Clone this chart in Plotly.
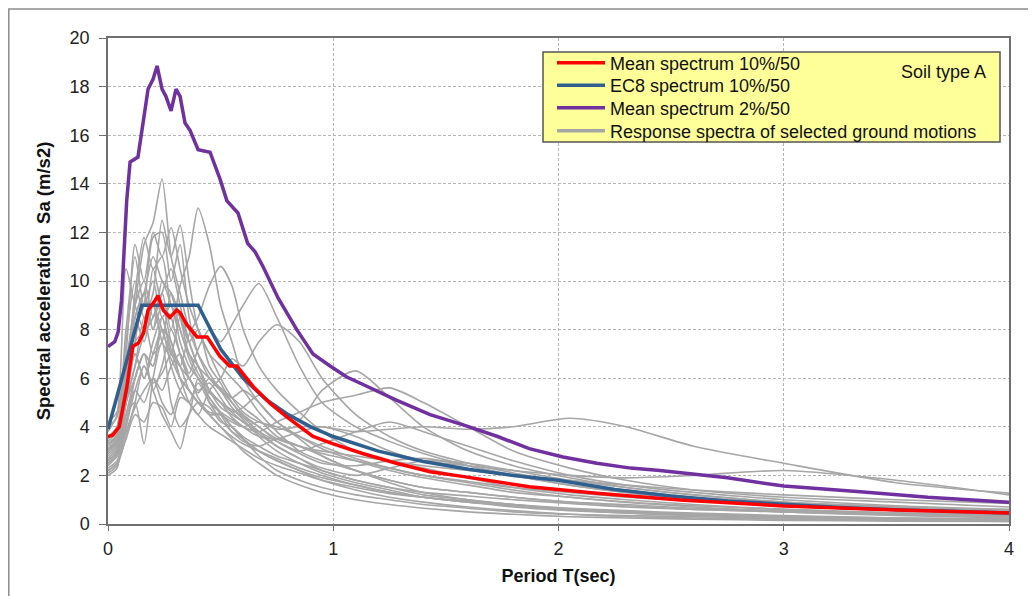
import plotly.graph_objects as go

# ---------------- data ----------------
period_grid = [0, 0.04, 0.08, 0.12, 0.16, 0.2, 0.24, 0.28, 0.32, 0.36, 0.4, 0.45, 0.5, 0.55, 0.6,
               0.67, 0.75, 0.85, 0.95, 1.1, 1.25, 1.4, 1.6, 1.8, 2.05, 2.3, 2.6, 3.0, 3.5, 4.0]

gm01 = [3.0, 3.4, 6.5, 9.0, 11.5, 12.4, 14.2, 11.0, 9.5, 8.0, 7.0, 6.2, 5.5, 4.8, 4.3, 3.6, 3.0, 2.5, 2.1, 1.7, 1.4, 1.1, 0.9, 0.7, 0.55, 0.45, 0.35, 0.28, 0.2, 0.15]
gm02 = [2.6, 3.0, 5.0, 6.5, 7.8, 8.5, 9.5, 8.0, 9.8, 11.0, 13.0, 11.5, 9.0, 7.5, 6.0, 5.0, 4.2, 3.6, 3.1, 2.6, 2.2, 1.9, 1.6, 1.3, 1.1, 0.9, 0.7, 0.5, 0.35, 0.25]
gm03 = [3.3, 3.6, 5.5, 7.0, 6.0, 7.5, 8.5, 7.2, 6.5, 7.8, 8.5, 9.8, 10.6, 9.8, 8.0, 6.5, 5.5, 4.6, 3.8, 3.0, 2.6, 2.3, 1.9, 1.5, 1.2, 1.0, 0.8, 0.6, 0.45, 0.35]
gm04 = [2.4, 2.8, 4.2, 5.5, 5.0, 6.0, 5.5, 6.5, 7.0, 6.2, 7.2, 8.0, 7.5, 8.2, 9.0, 9.9, 8.5, 6.5, 5.0, 4.0, 3.4, 2.9, 2.4, 2.0, 1.6, 1.3, 1.05, 0.8, 0.6, 0.45]
gm05 = [2.2, 2.5, 3.5, 4.5, 4.2, 5.0, 4.8, 4.0, 5.2, 5.0, 4.5, 5.5, 6.0, 6.8, 6.5, 7.5, 8.2, 7.5, 6.0, 4.5, 3.6, 3.0, 2.5, 2.1, 1.7, 1.4, 1.1, 0.85, 0.6, 0.45]
gm06 = [3.0, 3.5, 5.8, 8.5, 9.5, 8.0, 9.0, 7.5, 6.5, 6.0, 5.5, 5.8, 5.2, 4.6, 4.8, 5.3, 4.8, 4.3, 5.5, 6.3, 5.2, 4.0, 3.0, 2.4, 1.9, 1.5, 1.2, 0.9, 0.7, 0.55]
gm07 = [2.8, 3.2, 5.0, 7.5, 8.0, 10.5, 9.0, 8.5, 7.0, 6.0, 6.5, 5.0, 4.6, 4.3, 4.0, 3.8, 4.2, 4.6, 5.0, 5.3, 5.6, 5.0, 4.0, 3.0, 2.3, 1.8, 1.4, 1.1, 0.9, 0.7]
gm08 = [2.5, 2.9, 4.5, 6.0, 7.0, 6.5, 8.0, 7.5, 6.0, 5.5, 5.0, 4.6, 4.5, 4.2, 4.0, 4.2, 3.9, 4.0, 4.0, 3.8, 3.9, 4.0, 3.9, 4.0, 4.35, 4.0, 3.2, 2.5, 1.7, 1.27]
gm09 = [3.5, 4.0, 6.0, 8.5, 9.5, 11.0, 10.0, 9.5, 8.0, 7.0, 6.2, 5.5, 5.0, 4.4, 4.0, 3.6, 3.5, 3.8, 4.0, 3.6, 3.0, 2.6, 2.4, 2.2, 2.0, 1.9, 2.0, 2.2, 1.8, 1.2]
gm10 = [3.8, 4.5, 10.5, 9.0, 8.0, 9.0, 7.5, 6.8, 6.0, 5.5, 5.0, 4.5, 4.0, 3.6, 3.3, 3.0, 2.7, 2.3, 2.0, 1.6, 1.3, 1.1, 0.9, 0.75, 0.6, 0.5, 0.4, 0.3, 0.22, 0.15]
gm11 = [2.0, 2.3, 4.5, 5.0, 3.3, 6.0, 7.5, 5.0, 4.0, 4.5, 6.0, 5.2, 4.5, 3.8, 3.5, 3.0, 2.6, 2.2, 1.8, 1.4, 1.1, 0.9, 0.7, 0.55, 0.4, 0.3, 0.25, 0.2, 0.15, 0.1]
gm12 = [2.2, 2.5, 4.0, 5.5, 6.5, 5.5, 4.5, 3.8, 3.1, 4.5, 5.0, 4.8, 4.2, 4.0, 3.6, 3.2, 2.8, 2.5, 2.2, 1.8, 1.5, 1.2, 1.0, 0.8, 0.6, 0.5, 0.4, 0.3, 0.2, 0.15]
gm13 = [4.2, 4.6, 7.0, 11.5, 10.0, 12.0, 11.0, 12.2, 10.5, 9.0, 8.0, 7.0, 6.5, 6.0, 5.5, 4.6, 3.8, 3.0, 2.6, 2.2, 1.8, 1.5, 1.3, 1.1, 0.9, 0.75, 0.6, 0.5, 0.38, 0.3]
gm14 = [3.2, 3.6, 6.0, 9.5, 11.8, 10.5, 11.0, 9.0, 8.5, 7.5, 8.0, 6.5, 5.8, 5.0, 4.5, 4.0, 3.5, 3.2, 3.0, 2.8, 2.6, 2.4, 2.2, 2.0, 1.8, 1.6, 1.4, 1.2, 1.0, 0.85]
gm15 = [2.9, 3.3, 5.5, 8.0, 9.0, 11.8, 12.0, 10.0, 11.5, 8.5, 7.0, 6.0, 5.5, 5.2, 5.5, 5.0, 4.2, 3.5, 2.8, 2.2, 1.8, 1.5, 1.3, 1.1, 0.9, 0.8, 0.65, 0.55, 0.45, 0.35]
gm16 = [3.6, 4.0, 7.5, 10.0, 8.5, 9.5, 12.5, 11.0, 12.3, 10.0, 8.0, 7.0, 6.0, 5.2, 4.6, 4.2, 4.0, 3.6, 3.2, 2.7, 2.3, 2.0, 1.7, 1.4, 1.1, 0.9, 0.75, 0.6, 0.45, 0.35]
gm17 = [2.5, 2.8, 4.0, 6.0, 7.0, 5.5, 6.5, 8.0, 7.0, 6.0, 5.4, 6.0, 5.5, 5.0, 4.4, 3.8, 3.2, 2.7, 2.3, 2.0, 2.3, 2.6, 2.5, 2.2, 1.8, 1.5, 1.2, 0.9, 0.7, 0.55]
gm18 = [3.0, 3.4, 5.0, 6.5, 8.5, 7.0, 7.5, 9.5, 8.5, 7.0, 6.5, 5.5, 4.8, 4.5, 4.2, 3.8, 3.4, 3.0, 3.3, 3.8, 4.2, 3.8, 3.2, 2.6, 2.0, 1.6, 1.3, 1.0, 0.75, 0.6]
gm19 = [2.3, 2.6, 3.8, 4.8, 5.5, 6.0, 5.0, 4.5, 5.5, 6.0, 5.2, 4.5, 4.0, 3.5, 3.0, 2.5, 2.0, 1.6, 1.3, 1.0, 0.8, 0.65, 0.5, 0.4, 0.3, 0.25, 0.2, 0.15, 0.12, 0.1]
gm20 = [3.3, 3.7, 6.5, 9.0, 10.0, 8.5, 9.5, 10.5, 9.0, 7.5, 6.5, 5.5, 5.0, 4.7, 4.4, 4.0, 3.4, 2.9, 2.5, 2.4, 2.6, 2.7, 2.4, 2.0, 1.6, 1.3, 1.0, 0.8, 0.6, 0.5]
gm21 = [2.7, 3.1, 5.0, 7.0, 6.0, 7.0, 8.0, 6.5, 5.5, 5.0, 5.8, 5.0, 4.3, 3.8, 3.4, 3.2, 3.5, 3.2, 2.8, 2.2, 1.7, 1.3, 1.0, 0.8, 0.6, 0.45, 0.35, 0.28, 0.2, 0.15]
gm22 = [4.0, 4.4, 8.0, 11.0, 9.0, 10.0, 8.5, 9.0, 7.5, 6.5, 6.0, 5.2, 4.6, 4.0, 3.5, 3.0, 2.6, 2.2, 1.9, 1.6, 1.3, 1.1, 0.9, 0.75, 0.6, 0.5, 0.4, 0.3, 0.25, 0.2]
gm23 = [2.1, 2.4, 3.6, 5.0, 6.5, 5.8, 6.2, 7.0, 6.0, 5.0, 4.5, 4.0, 3.7, 3.4, 3.1, 2.7, 2.4, 2.1, 1.8, 1.5, 1.25, 1.1, 0.95, 0.8, 0.65, 0.55, 0.45, 0.35, 0.25, 0.2]
gm24 = [3.1, 3.5, 5.5, 7.5, 9.5, 8.0, 10.0, 9.0, 8.0, 6.8, 6.0, 5.4, 5.0, 4.6, 4.2, 3.7, 3.2, 2.7, 2.2, 1.8, 1.5, 1.3, 1.15, 1.0, 0.85, 0.7, 0.6, 0.5, 0.4, 0.3]
gm25 = [2.6, 3.0, 5.0, 6.0, 7.0, 6.5, 8.5, 7.0, 6.5, 5.5, 5.0, 4.5, 4.5, 4.0, 3.5, 2.8, 2.2, 1.8, 1.5, 1.2, 1.0, 0.8, 0.65, 0.5, 0.4, 0.35, 0.3, 0.25, 0.18, 0.12]
gm26 = [3.4, 3.8, 6.0, 8.5, 7.5, 9.0, 8.0, 7.0, 8.5, 7.5, 6.5, 6.0, 5.6, 5.2, 4.8, 4.3, 3.6, 3.2, 2.9, 2.6, 2.3, 2.0, 1.75, 1.5, 1.3, 1.1, 0.95, 0.8, 0.65, 0.55]

ground_motions = [gm01, gm02, gm03, gm04, gm05, gm06, gm07, gm08, gm09, gm10, gm11, gm12, gm13,
                  gm14, gm15, gm16, gm17, gm18, gm19, gm20, gm21, gm22, gm23, gm24, gm25, gm26]

mean10_T = [0, 0.02, 0.05, 0.083, 0.11, 0.135, 0.157, 0.178, 0.209, 0.222, 0.245, 0.275, 0.305, 0.32,
            0.35, 0.395, 0.44, 0.497, 0.54, 0.572, 0.645, 0.72, 0.795, 0.91, 1.0, 1.13, 1.28, 1.43,
            1.58, 1.73, 1.87, 2.02, 2.17, 2.54, 3.0, 3.5, 4.0]
mean10_Sa = [3.6, 3.65, 4.0, 5.6, 7.3, 7.45, 7.85, 8.8, 9.2, 9.4, 8.8, 8.5, 8.8, 8.7,
             8.2, 7.7, 7.7, 6.9, 6.5, 6.5, 5.65, 4.96, 4.4, 3.6, 3.3, 2.9, 2.5, 2.15,
             1.95, 1.74, 1.53, 1.4, 1.27, 0.99, 0.74, 0.58, 0.45]

ec8_T = [0, 0.15, 0.4, 0.5, 0.6, 0.7, 0.8, 0.9, 1.0, 1.2, 1.4, 1.6, 1.8, 2.0, 2.25, 2.5, 2.75,
         3.0, 3.25, 3.5, 3.75, 4.0]
ec8_Sa = [3.9, 9.0, 9.0, 7.2, 6.0, 5.14, 4.5, 4.0, 3.6, 3.0, 2.57, 2.25, 2.0, 1.8, 1.42, 1.15, 0.95,
          0.8, 0.68, 0.59, 0.51, 0.45]

mean2_T = [0, 0.03, 0.045, 0.06, 0.083, 0.098, 0.133, 0.155, 0.178, 0.2, 0.218, 0.24, 0.257, 0.28,
           0.302, 0.32, 0.342, 0.364, 0.40, 0.453, 0.466, 0.497, 0.528, 0.555, 0.577, 0.62, 0.653,
           0.688, 0.755, 0.838, 0.91, 0.986, 1.06, 1.13, 1.28, 1.43, 1.58, 1.73, 1.87, 2.02, 2.17,
           2.32, 2.45, 2.75, 3.0, 3.34, 3.64, 4.0]
mean2_Sa = [7.3, 7.5, 7.9, 9.2, 13.3, 14.9, 15.1, 16.5, 17.9, 18.3, 18.85, 17.9, 17.6, 17.0,
            17.9, 17.6, 16.5, 16.2, 15.4, 15.3, 15.0, 14.2, 13.3, 13.05, 12.8, 11.55, 11.2,
            10.6, 9.3, 8.0, 7.0, 6.5, 6.05, 5.75, 5.1, 4.5, 4.07, 3.6, 3.1, 2.76, 2.5,
            2.3, 2.2, 1.9, 1.56, 1.33, 1.1, 0.9]

x_ticks = [0, 1, 2, 3, 4]
y_ticks = [0, 2, 4, 6, 8, 10, 12, 14, 16, 18, 20]

FONT = "Arial, Liberation Sans, sans-serif"
GRAY = "#a6a6a6"
RED = "#ff0000"
BLUE = "#2f5f8f"
PURPLE = "#7030a0"

fig = go.Figure()

for gm in ground_motions:
    fig.add_trace(go.Scatter(
        x=period_grid, y=gm, mode="lines",
        line=dict(color=GRAY, width=1.6, shape="spline", smoothing=0.7),
        name="Response spectra of selected ground motions",
        legendgroup="gm", showlegend=False, hoverinfo="skip"))

# legend entry for the ground motions (thicker sample line, as in the reference)
fig.add_trace(go.Scatter(x=[None], y=[None], mode="lines",
                         line=dict(color=GRAY, width=3.5),
                         name="Response spectra of selected ground motions",
                         legendgroup="gm", legend="legend4"))

fig.add_trace(go.Scatter(x=ec8_T, y=ec8_Sa, mode="lines",
                         line=dict(color=BLUE, width=3.5),
                         name="EC8 spectrum 10%/50", legend="legend2"))
fig.add_trace(go.Scatter(x=mean10_T, y=mean10_Sa, mode="lines",
                         line=dict(color=RED, width=3.5),
                         name="Mean spectrum 10%/50", legend="legend"))
fig.add_trace(go.Scatter(x=mean2_T, y=mean2_Sa, mode="lines",
                         line=dict(color=PURPLE, width=3.5),
                         name="Mean spectrum 2%/50", legend="legend3"))

# page offset of the figure inside the browser (default body margin)
OFF = 8
# target plot-area rectangle in screen pixels
SX0, SX1, SY0, SY1 = 108, 1009, 38, 524
W, H = 1036 - OFF, 596 - OFF
L, T = SX0 - OFF, SY0 - OFF
R = W - (SX1 - OFF)
B = H - (SY1 - OFF)
pw, ph = W - L - R, H - T - B


def px_x(p):
    return (p - OFF - L) / pw


def px_y(p):
    return (H - B - (p - OFF)) / ph


def legend_at(row_y):
    return dict(x=px_x(552), y=px_y(row_y), xanchor="left", yanchor="middle",
                bgcolor="rgba(0,0,0,0)", borderwidth=0,
                font=dict(family=FONT, size=18, color="#111"),
                itemwidth=48)


fig.update_layout(
    width=W, height=H,
    margin=dict(l=L, r=R, t=T, b=B),
    paper_bgcolor="white", plot_bgcolor="white",
    font=dict(family=FONT, size=18, color="#222"),
    showlegend=True,
    legend=legend_at(63),
    legend2=legend_at(85.5),
    legend3=legend_at(108),
    legend4=legend_at(131),
    shapes=[
        dict(type="rect", xref="paper", yref="paper",
             x0=px_x(8.8), x1=px_x(1033), y0=px_y(610), y1=px_y(9),
             line=dict(color="#8c8c8c", width=1.5), fillcolor="rgba(0,0,0,0)", layer="below"),
        dict(type="rect", xref="paper", yref="paper",
             x0=px_x(543), x1=px_x(1000), y0=px_y(142), y1=px_y(52),
             line=dict(color="#555", width=1.5), fillcolor="#ffff99", layer="above"),
    ],
    annotations=[
        dict(text="Soil type A", xref="paper", yref="paper",
             x=px_x(988), y=px_y(72), xanchor="right", yanchor="middle",
             showarrow=False, font=dict(family=FONT, size=18, color="#111")),
    ],
)

fig.update_xaxes(
    range=[0, 4], tickvals=x_ticks, ticktext=[str(v) for v in x_ticks],
    showgrid=True, gridcolor="#b5b5b5", griddash="3px,2px", gridwidth=1,
    showline=True, linecolor="#707070", linewidth=2, mirror=True,
    ticks="outside", ticklen=5, tickcolor="#707070",
    ticklabelstandoff=2,
    tickfont=dict(family=FONT, size=18, color="#222"),
    zeroline=False,
    title=dict(text="<b>Period T(sec)</b>", font=dict(family=FONT, size=18, color="#111"),
               standoff=12),
)
fig.update_yaxes(
    range=[0, 20], tickvals=y_ticks, ticktext=[str(v) for v in y_ticks],
    showgrid=True, gridcolor="#b5b5b5", griddash="3px,2px", gridwidth=1,
    showline=True, linecolor="#707070", linewidth=1.5, mirror=True,
    ticks="outside", ticklen=7, tickcolor="#707070",
    ticklabelstandoff=6,
    tickfont=dict(family=FONT, size=18, color="#222"),
    zeroline=False,
    title=dict(text="<b>Spectral acceleration\u00a0\u00a0Sa (m/s2)</b>",
               font=dict(family=FONT, size=18.5, color="#111"), standoff=14),
)

fig.write_html("out.html")
